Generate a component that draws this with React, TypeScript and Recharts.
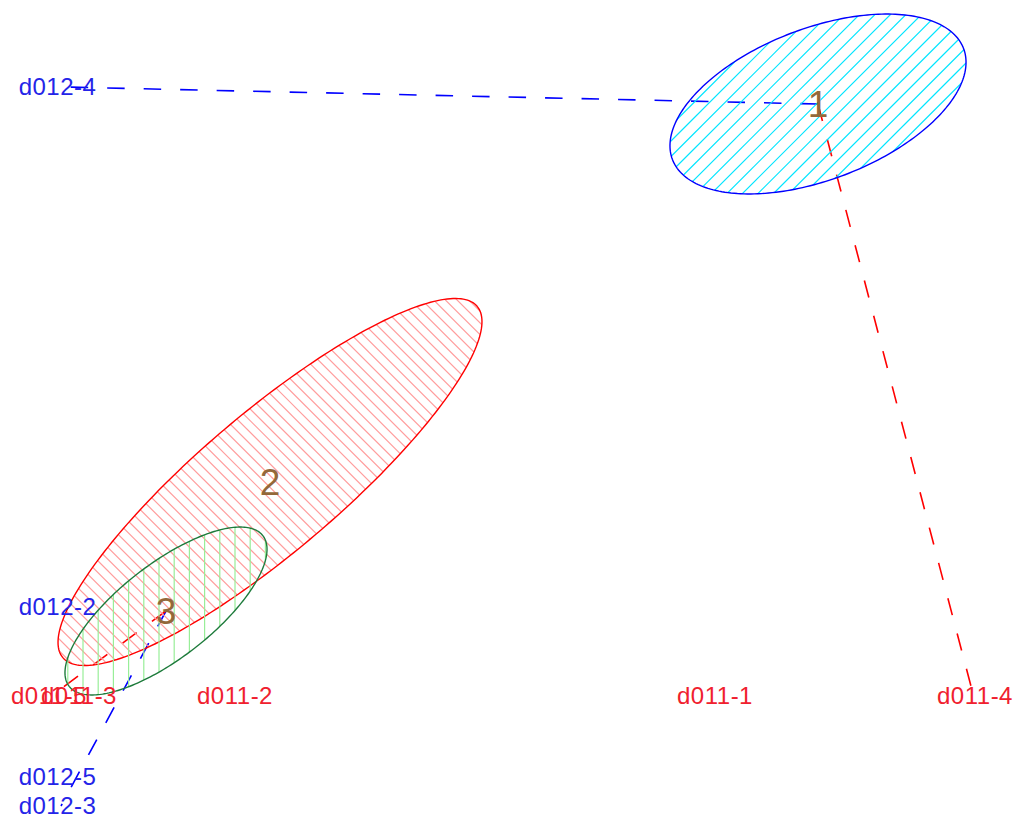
import React from 'react';
import { ScatterChart, Scatter, XAxis, YAxis, ReferenceLine } from 'recharts';

// Coordinates in plot units (Component 1 / Component 2 space)
const clusterIds = ['1', '2', '3'];
const clusterX = [8.18, 2.70, 1.66];
const clusterY = [7.10, 3.32, 2.03];
const semiMajor = [1.558, 2.716, 1.227];
const semiMinor = [0.757, 0.696, 0.469];
const angleDeg = [20.9, 40.3, 37.9];

const d011Labels = ['d011-1', 'd011-2', 'd011-4', 'd011-5', 'd011-3'];
const d011X = [7.15, 2.35, 9.75, 0.49, 0.79];
const d011Y = [1.19, 1.19, 1.19, 1.19, 1.19];

const d012Labels = ['d012-4', 'd012-2', 'd012-5', 'd012-3'];
const d012X = [0.575, 0.575, 0.575, 0.575];
const d012Y = [7.28, 2.075, 0.375, 0.09];

// segments from cluster centre to observation
const segCluster = [0, 0, 2, 2];
const segEndX = [0.64, 9.72, 0.61, 0.62];
const segEndY = [7.27, 1.24, 0.08, 1.26];

const X_DOMAIN: [number, number] = [0, 10.15];
const Y_DOMAIN: [number, number] = [0, 8.14];

// styles
const outlineColors = ['#0000FF', '#FF0000', '#1E7B3C'];
const hatchColors = ['#00E5FF', '#FF9C9C', '#98EE98'];
const hatchModes = ['up', 'down', 'vertical'];
const hatchSpacing = [15.5, 11.7, 15.2];
const hatchPhase = [6, 5, 7];
const segColors = ['#0000FF', '#FF0000', '#0000FF', '#FF0000'];
const FONT = '"Liberation Sans", Arial, Helvetica, sans-serif';

const ellipseData = clusterIds.map((_, i) => {
  const t = (angleDeg[i] * Math.PI) / 180;
  return [
    { x: clusterX[i], y: clusterY[i] },
    { x: clusterX[i] + semiMajor[i] * Math.cos(t), y: clusterY[i] + semiMajor[i] * Math.sin(t) },
    { x: clusterX[i] - semiMinor[i] * Math.sin(t), y: clusterY[i] + semiMinor[i] * Math.cos(t) },
  ];
});

const centerData = clusterIds.map((id, i) => ({ x: clusterX[i], y: clusterY[i], name: id }));
const d011Data = d011Labels.map((n, i) => ({ x: d011X[i], y: d011Y[i], name: n }));
const d012Data = d012Labels.map((n, i) => ({ x: d012X[i], y: d012Y[i], name: n }));

const makeEllipse = (i: number) => (props: any) => {
  const pts = props.points || [];
  if (pts.length < 3) return <g />;
  const c = pts[0];
  const ax = pts[1].x - c.x;
  const ay = pts[1].y - c.y;
  const bx = pts[2].x - c.x;
  const by = pts[2].y - c.y;
  const N = 240;
  let d = '';
  for (let k = 0; k <= N; k++) {
    const th = (2 * Math.PI * k) / N;
    const px = c.x + Math.cos(th) * ax + Math.sin(th) * bx;
    const py = c.y + Math.cos(th) * ay + Math.sin(th) * by;
    d += (k === 0 ? 'M' : 'L') + px.toFixed(2) + ',' + py.toFixed(2);
  }
  d += 'Z';
  const rx = Math.sqrt(ax * ax + bx * bx);
  const ry = Math.sqrt(ay * ay + by * by);
  const x0 = c.x - rx, x1 = c.x + rx, y0 = c.y - ry, y1 = c.y + ry;
  const sp = hatchSpacing[i];
  const ph = hatchPhase[i];
  const lines: any[] = [];
  const mode = hatchModes[i];
  if (mode === 'vertical') {
    const kStart = Math.floor((x0 - ph) / sp);
    const kEnd = Math.ceil((x1 - ph) / sp);
    for (let k = kStart; k <= kEnd; k++) {
      const x = ph + k * sp;
      lines.push(<line key={k} x1={x} y1={y0} x2={x} y2={y1} />);
    }
  } else if (mode === 'up') {
    const kStart = Math.floor((x0 + y0 - ph) / sp);
    const kEnd = Math.ceil((x1 + y1 - ph) / sp);
    for (let k = kStart; k <= kEnd; k++) {
      const s = ph + k * sp;
      lines.push(<line key={k} x1={x0} y1={s - x0} x2={x1} y2={s - x1} />);
    }
  } else {
    const kStart = Math.floor((x0 - y1 - ph) / sp);
    const kEnd = Math.ceil((x1 - y0 - ph) / sp);
    for (let k = kStart; k <= kEnd; k++) {
      const s = ph + k * sp;
      lines.push(<line key={k} x1={x0} y1={x0 - s} x2={x1} y2={x1 - s} />);
    }
  }
  const clipId = 'ell-clip-' + i;
  return (
    <g>
      <defs>
        <clipPath id={clipId}>
          <path d={d} />
        </clipPath>
      </defs>
      <g clipPath={'url(#' + clipId + ')'} stroke={hatchColors[i]} strokeWidth={1.2}>
        {lines}
      </g>
      <path d={d} fill="none" stroke={outlineColors[i]} strokeWidth={1.4} />
    </g>
  );
};

const emptyShape = () => <g />;

const makeLabelShape = (color: string, size: number, spacing: number) => (props: any) => {
  const { cx, cy, payload } = props;
  return (
    <text
      x={cx}
      y={cy}
      textAnchor="middle"
      dominantBaseline="central"
      fill={color}
      fontSize={size}
      fontFamily={FONT}
      letterSpacing={spacing}
    >
      {payload && payload.name}
    </text>
  );
};

export default function App() {
  return (
    <div style={{ position: 'absolute', left: 0, top: 0, width: 1015, height: 814, background: '#fff' }}>
      <ScatterChart width={1015} height={814} margin={{ top: 0, right: 0, bottom: 0, left: 0 }}>
        <XAxis type="number" dataKey="x" domain={X_DOMAIN} hide allowDataOverflow />
        <YAxis type="number" dataKey="y" domain={Y_DOMAIN} hide allowDataOverflow />
        {ellipseData.map((data, i) => (
          <Scatter
            key={'ell' + i}
            data={data}
            line={makeEllipse(i)}
            lineJointType="joint"
            shape={emptyShape}
            fill="none"
            isAnimationActive={false}
          />
        ))}
        {segCluster.map((ci, i) => (
          <ReferenceLine
            key={'seg' + i}
            segment={[
              { x: clusterX[ci], y: clusterY[ci] },
              { x: segEndX[i], y: segEndY[i] },
            ]}
            stroke={segColors[i]}
            strokeWidth={1.6}
            strokeDasharray="17.5 19"
            ifOverflow="visible"
          />
        ))}
        <Scatter data={d011Data} shape={makeLabelShape('#F0202E', 24, 0.5)} isAnimationActive={false} />
        <Scatter data={d012Data} shape={makeLabelShape('#2424E8', 24, 0.5)} isAnimationActive={false} />
        <Scatter data={centerData} shape={makeLabelShape('#94683A', 37, 0)} isAnimationActive={false} />
      </ScatterChart>
    </div>
  );
}
